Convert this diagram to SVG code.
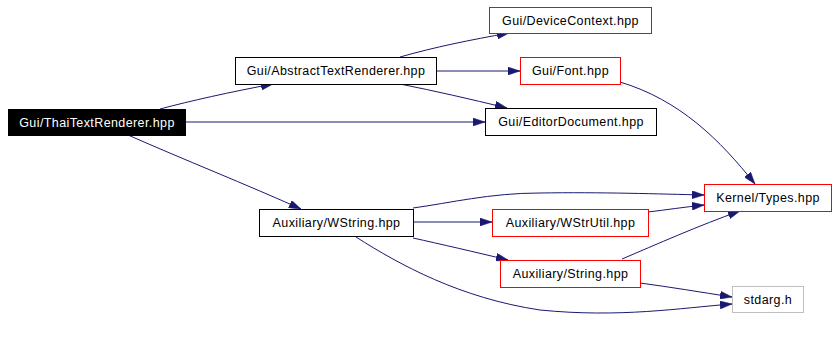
<svg xmlns="http://www.w3.org/2000/svg" width="837" height="344" viewBox="0 0 837 344">
  <style>
    .n rect { fill: #ffffff; stroke: #000000; stroke-width: 1; }
    .n.red rect { stroke: #ff0000; }
    .n.grey rect { stroke: #bfbfbf; }
    .n.root rect { fill: #000000; }
    .n text { font-family: "Liberation Sans", Arial, sans-serif; font-size: 12.5px; letter-spacing: 0.4px; fill: #000000; text-anchor: middle; }
    .n.root text { fill: #ffffff; }
    #edges path { fill: none; stroke: #191970; stroke-width: 1; marker-end: url(#arrow); }
  </style>
  <defs>
    <marker id="arrow" markerUnits="userSpaceOnUse" markerWidth="12" markerHeight="8" refX="12" refY="4" orient="auto">
      <path d="M0,0 L12,4 L0,8 z" fill="#191970" stroke="#191970" stroke-width="0.5"/>
    </marker>
  </defs>
  <rect width="837" height="344" fill="#ffffff"/>

  <g id="edges">
    <path d="M160,109 C190,101 230,92 273,84"/>
    <path d="M185,122 L485,122"/>
    <path d="M128,135 C180,158 250,186 301,209"/>
    <path d="M400,57 C435,47 470,40 509,33"/>
    <path d="M436,71 L520,71"/>
    <path d="M400,84 C435,91 470,99 507,108"/>
    <path d="M620,82 C680,100 720,140 755,184"/>
    <path d="M413,208 C450,203 490,193 540,193 C600,192 660,194 704,195"/>
    <path d="M413,222 L492,222"/>
    <path d="M648,212 C665,210 685,207 704,205"/>
    <path d="M413,238 C440,244 475,252 508,260"/>
    <path d="M622,259 C655,245 700,225 740,211"/>
    <path d="M640,283 C670,287 700,292 732,297"/>
    <path d="M356,237 C400,265 460,298 540,310 C620,318 680,308 732,304"/>
  </g>

  <g id="ThaiTextRenderer" class="n root">
    <rect x="8.5" y="109.5" width="177" height="26"/>
    <text x="97" y="126.5">Gui/ThaiTextRenderer.hpp</text>
  </g>
  <g id="AbstractTextRenderer" class="n">
    <rect x="235.5" y="57.5" width="201" height="27"/>
    <text x="336" y="75">Gui/AbstractTextRenderer.hpp</text>
  </g>
  <g id="DeviceContext" class="n red">
    <rect x="489.5" y="7.5" width="162" height="26"/>
    <text x="570.5" y="24.5">Gui/DeviceContext.hpp</text>
  </g>
  <g id="Font" class="n red">
    <rect x="520.5" y="57.5" width="100" height="27"/>
    <text x="570.5" y="75">Gui/Font.hpp</text>
  </g>
  <g id="EditorDocument" class="n">
    <rect x="485.5" y="108.5" width="171" height="27"/>
    <text x="571" y="126">Gui/EditorDocument.hpp</text>
  </g>
  <g id="Types" class="n red">
    <rect x="704.5" y="184.5" width="127" height="27"/>
    <text x="768" y="202">Kernel/Types.hpp</text>
  </g>
  <g id="WString" class="n">
    <rect x="259.5" y="209.5" width="154" height="27"/>
    <text x="336.5" y="227">Auxiliary/WString.hpp</text>
  </g>
  <g id="WStrUtil" class="n red">
    <rect x="492.5" y="209.5" width="156" height="27"/>
    <text x="570.5" y="227">Auxiliary/WStrUtil.hpp</text>
  </g>
  <g id="String" class="n red">
    <rect x="500.5" y="260.5" width="140" height="27"/>
    <text x="570.5" y="278">Auxiliary/String.hpp</text>
  </g>
  <g id="stdarg" class="n grey">
    <rect x="732.5" y="286.5" width="71" height="26"/>
    <text x="768" y="303.5">stdarg.h</text>
  </g>
</svg>
